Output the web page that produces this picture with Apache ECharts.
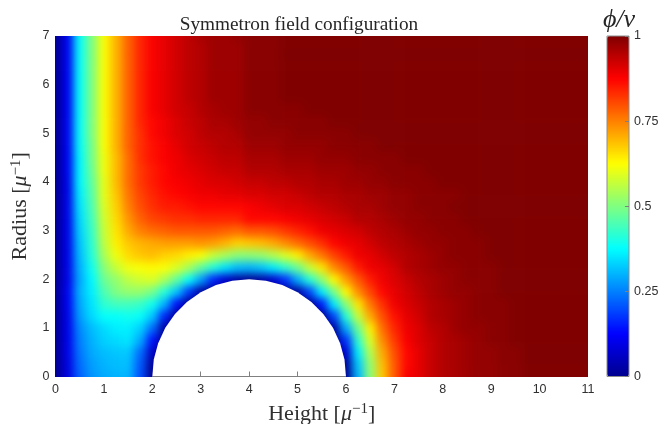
<!DOCTYPE html>
<html>
<head>
<meta charset="utf-8">
<style>
    html, body { margin: 0; padding: 0; background: #fff; }
    #chart { width: 671px; height: 424px; }
    /* the field sits alone on layer 0: soften the cells, keep it inside the plot box */
    #chart canvas[data-zr-dom-id="zr_0"] {
        filter: blur(4px);
        clip-path: inset(36px 83px 47.5px 55.5px);
    }
</style>
<script src="https://cdn.jsdelivr.net/npm/echarts@6/dist/echarts.min.js"></script>
</head>
<body>
<div id="chart"></div>
<script>
    // height axis, radius axis (field nodes every 0.25)
    let xValues = [0,0.25,0.5,0.75,1,1.25,1.5,1.75,2,2.25,2.5,2.75,3,3.25,3.5,3.75,4,4.25,4.5,4.75,5,5.25,5.5,5.75,6,6.25,6.5,6.75,7,7.25,7.5,7.75,8,8.25,8.5,8.75,9,9.25,9.5,9.75,10,10.25,10.5,10.75,11];
    let yValues = [0,0.25,0.5,0.75,1,1.25,1.5,1.75,2,2.25,2.5,2.75,3,3.25,3.5,3.75,4,4.25,4.5,4.75,5,5.25,5.5,5.75,6,6.25,6.5,6.75,7];

    // phi/v in percent, one row per radius (bottom row first)
    let fieldRows = [
        [0,9,22,27,29,30,30,20,0,0,0,0,0,0,0,0, 0,0,0,0,0,0,0,0,0,30,51,68,79,88,90,93,95,96,97,98,98,99,99,100,100,100,100,100,100],
        [0,9,23,28,30,31,31,21,1,0,0,0,0,0,0,0, 0,0,0,0,0,0,0,0,1,32,52,69,79,87,90,93,95,96,97,98,98,99,99,100,100,100,100,100,100],
        [0,10,24,29,31,32,32,23,6,0,0,0,0,0,0,0, 0,0,0,0,0,0,0,0,7,36,55,71,80,87,90,93,95,96,97,98,98,99,99,100,100,100,100,100,100],
        [0,10,25,30,33,34,35,29,14,0,0,0,0,0,0,0, 0,0,0,0,0,0,0,0,17,42,59,74,82,88,91,93,95,96,97,98,99,99,100,100,100,100,100,100,100],
        [0,10,26,31,34,36,36,33,23,2,0,0,0,0,0,0, 0,0,0,0,0,0,0,2,29,48,64,77,84,89,91,94,95,97,98,98,99,99,100,100,100,100,100,100,100],
        [0,10,28,34,38,38,39,38,32,16,0,0,0,0,0,0, 0,0,0,0,0,0,0,19,41,57,71,80,86,90,92,95,96,97,98,99,99,99,100,100,100,100,100,100,100],
        [0,11,29,35,42,44,44,43,39,30,14,0,0,0,0,0, 0,0,0,0,0,0,15,36,51,65,76,83,89,91,93,95,96,97,98,99,99,99,100,100,100,100,100,100,100],
        [0,11,30,36,45,50,52,52,49,41,32,18,2,0,0,0, 0,0,0,0,2,19,36,49,63,74,81,87,90,92,94,96,97,98,98,99,99,100,100,100,100,100,100,100,100],
        [0,10,29,37,48,52,56,58,59,54,47,38,28,16,7,2, 0,2,7,17,29,41,51,63,72,79,85,89,91,93,95,96,97,98,99,99,99,100,100,100,100,100,100,100,100],
        [0,10,30,39,51,57,61,62,63,62,59,54,47,41,35,31, 30,32,36,42,48,57,65,74,79,85,89,90,92,95,96,97,98,98,99,99,99,100,100,100,100,100,100,100,100],
        [0,10,31,41,54,61,66,68,69,67,66,64,62,57,54,51, 51,52,55,59,64,71,76,81,85,89,90,92,94,95,96,97,98,99,99,99,100,100,100,100,100,100,100,100,100],
        [0,10,32,42,56,64,68,70,71,72,72,72,73,72,70,67, 68,69,71,74,77,80,83,87,89,90,92,94,95,96,97,98,98,99,99,99,100,100,100,100,100,100,100,100,100],
        [0,10,33,43,57,65,71,75,77,78,79,79,79,79,78,77, 79,79,80,82,84,86,89,90,91,92,94,95,96,97,98,98,99,99,99,100,100,100,100,100,100,100,100,100,100],
        [0,10,34,44,58,66,73,78,81,82,83,83,84,84,84,84, 87,87,87,88,89,90,91,92,93,95,95,96,97,98,98,99,99,99,100,100,100,100,100,100,100,100,100,100,100],
        [0,10,35,45,59,67,75,80,83,85,85,86,87,87,87,87, 88,89,90,91,91,92,93,94,95,96,96,97,98,98,99,99,99,100,100,100,100,100,100,100,100,100,100,100,100],
        [0,10,36,46,60,68,76,81,84,86,87,88,89,89,90,90, 91,91,92,92,93,94,95,95,96,96,97,97,98,98,99,99,99,99,100,100,100,100,100,100,100,100,100,100,100],
        [0,10,37,47,60,69,77,82,85,87,88,89,90,91,91,92, 93,93,94,94,95,95,96,96,97,97,98,98,99,99,99,99,100,100,100,100,100,100,100,100,100,100,100,100,100],
        [0,11,37,48,61,69,77,82,85,87,89,90,91,92,93,93, 95,95,95,96,96,96,97,97,97,98,98,99,99,99,99,100,100,100,100,100,100,100,100,100,100,100,100,100,100],
        [0,11,37,49,61,69,77,83,86,88,89,91,92,93,94,94, 96,96,96,97,97,97,98,98,98,99,99,99,99,100,100,100,100,100,100,100,100,100,100,100,100,100,100,100,100],
        [0,11,38,49,62,70,78,83,86,88,90,92,93,94,95,95, 97,97,97,98,98,98,98,99,99,99,99,100,100,100,100,100,100,100,100,100,100,100,100,100,100,100,100,100,100],
        [0,11,38,50,62,70,78,83,87,89,91,92,94,95,95,96, 98,98,98,98,99,99,99,99,99,100,100,100,100,100,100,100,100,100,100,100,100,100,100,100,100,100,100,100,100],
        [0,11,38,50,62,70,78,84,87,89,91,93,94,96,96,97, 98,98,99,99,99,99,99,100,100,100,100,100,100,100,100,100,100,100,100,100,100,100,100,100,100,100,100,100,100],
        [0,11,38,50,62,70,78,84,88,90,92,93,95,96,97,97, 99,99,99,99,99,100,100,100,100,100,100,100,100,100,100,100,100,100,100,100,100,100,100,100,100,100,100,100,100],
        [0,11,38,50,62,70,78,84,88,90,92,94,95,97,97,97, 99,99,99,100,100,100,100,100,100,100,100,100,100,100,100,100,100,100,100,100,100,100,100,100,100,100,100,100,100],
        [0,11,38,50,62,70,78,84,88,90,92,94,95,97,97,97, 99,99,99,100,100,100,100,100,100,100,100,100,100,100,100,100,100,100,100,100,100,100,100,100,100,100,100,100,100],
        [0,11,38,50,62,70,78,84,88,90,92,94,95,97,97,97, 99,99,99,100,100,100,100,100,100,100,100,100,100,100,100,100,100,100,100,100,100,100,100,100,100,100,100,100,100],
        [0,11,38,50,62,70,78,84,88,90,92,94,95,97,97,97, 99,99,99,100,100,100,100,100,100,100,100,100,100,100,100,100,100,100,100,100,100,100,100,100,100,100,100,100,100],
        [0,11,38,50,62,70,78,84,88,90,92,94,95,97,97,97, 99,99,99,100,100,100,100,100,100,100,100,100,100,100,100,100,100,100,100,100,100,100,100,100,100,100,100,100,100],
        [0,11,38,50,62,70,78,84,88,90,92,94,96,97,97,98, 99,99,99,100,100,100,100,100,100,100,100,100,100,100,100,100,100,100,100,100,100,100,100,100,100,100,100,100,100]
    ];

    // outline of the empty half disc
    let holeX = [2,2.03,2.121,2.268,2.468,2.714,3,3.316,3.653,4,4.347,4.684,5,5.286,5.532,5.732,5.879,5.97,6];
    let holeY = [0,0.347,0.684,1,1.286,1.532,1.732,1.879,1.97,2,1.97,1.879,1.732,1.532,1.286,1,0.684,0.347,0];

    let holeTicks = [3,4,5];
    let colorTicks = [0,0.25,0.5,0.75,1];
    let jetColors = ['#00008f','#0000ff','#0080ff','#00ffff','#80ff80','#ffff00','#ff8000','#ff0000','#800000'];

    let cells = [];
    for (let j = 0; j < yValues.length; j++) {
        for (let i = 0; i < xValues.length; i++) {
            cells.push([xValues[i], yValues[j], fieldRows[j][i] / 100]);
        }
    }

    let tickFont = {fontFamily: 'Liberation Sans', fontSize: 12.5, color: '#303030'};
    let serif = 'Liberation Serif';
    let nameRich = {
        a: {fontFamily: serif, fontSize: 22, color: '#303030'},
        m: {fontFamily: serif, fontSize: 22, fontStyle: 'italic', color: '#303030'},
        s: {fontFamily: serif, fontSize: 15, color: '#303030', padding: [0, 0, 10, 0]}
    };

    let myChart = echarts.init(document.getElementById('chart'));
    let option = {
        animation: false,
        title: [{
            text: 'Symmetron field configuration',
            left: 294,
            top: 10,
            textAlign: 'center',
            zlevel: 1,
            textStyle: {fontFamily: serif, fontSize: 19.25, fontWeight: 'normal', color: '#262626'}
        }, {
            text: 'ϕ/v',
            left: 614,
            top: 2,
            textAlign: 'center',
            zlevel: 1,
            textStyle: {fontFamily: serif, fontSize: 26, fontStyle: 'italic', fontWeight: 'normal', color: '#262626'}
        }],
        grid: [
            {left: 55.5, right: 83, top: 36, bottom: 47.5, show: false, outerBoundsMode: 'none'},
            {left: 607, width: 22, top: 36, bottom: 47.5, show: true, outerBoundsMode: 'none', zlevel: 1, z: 6, backgroundColor: 'transparent', borderColor: '#8c8c8c', borderWidth: 1}
        ],
        xAxis: [{
            type: 'value', min: 0, max: 11, interval: 1, gridIndex: 0, zlevel: 1, z: 5,
            name: '{a|Height [}{m|μ}{s|−1}{a|]}',
            nameLocation: 'middle',
            nameGap: 24,
            nameTextStyle: {rich: nameRich},
            splitLine: {show: false},
            axisLine: {show: false},
            axisTick: {show: true, inside: true, length: 5, customValues: holeTicks, lineStyle: {color: '#808080'}},
            axisLabel: Object.assign({margin: 7}, tickFont)
        }, {
            type: 'value', min: 0, max: 1, gridIndex: 1, show: false
        }],
        yAxis: [{
            type: 'value', min: 0, max: 7, interval: 1, gridIndex: 0, zlevel: 1, z: 5,
            name: '{a|Radius [}{m|μ}{s|−1}{a|]}',
            nameLocation: 'middle',
            nameGap: 15,
            nameTextStyle: {rich: nameRich},
            splitLine: {show: false},
            axisLine: {show: false},
            axisTick: {show: false},
            axisLabel: Object.assign({margin: 6}, tickFont)
        }, {
            type: 'value', min: 0, max: 1, interval: 0.25, gridIndex: 1, position: 'right', zlevel: 1, z: 7,
            splitLine: {show: false},
            axisLine: {show: false, onZero: false},
            axisTick: {show: true, inside: true, length: 4, lineStyle: {color: '#808080'}},
            axisLabel: Object.assign({
                margin: 5,
                customValues: colorTicks,
                formatter: function (v) { return String(v); }
            }, tickFont)
        }],
        visualMap: {
            type: 'continuous',
            seriesIndex: 0,
            dimension: 2,
            min: 0,
            max: 1,
            left: 607,
            top: 36,
            padding: 0,
            itemWidth: 22,
            itemHeight: 340.5,
            text: ['', ''],
            showLabel: false,
            calculable: false,
            realtime: false,
            zlevel: 1,
            z: 1,
            inRange: {color: jetColors}
        },
        series: [{
            type: 'custom',
            xAxisIndex: 0,
            yAxisIndex: 0,
            zlevel: 0,
            silent: true,
            data: cells,
            encode: {x: 0, y: 1},
            renderItem: function (params, api) {
                let c = api.coord([api.value(0), api.value(1)]);
                let s = api.size([0.25, 0.25]);
                // edge cells reach past the plot so the blur does not fade there
                let padL = api.value(0) === 0 ? 16 : 0;
                let padR = api.value(0) === 11 ? 16 : 0;
                let padB = api.value(1) === 0 ? 16 : 0;
                let padT = api.value(1) === 7 ? 16 : 0;
                return {
                    type: 'rect',
                    shape: {
                        x: c[0] - s[0] / 2 - padL,
                        y: c[1] - s[1] / 2 - padT,
                        width: s[0] + 0.5 + padL + padR,
                        height: s[1] + 0.5 + padT + padB
                    },
                    style: {fill: api.visual('color')}
                };
            }
        }, {
            type: 'line',
            xAxisIndex: 0,
            yAxisIndex: 0,
            zlevel: 1,
            z: 3,
            silent: true,
            symbol: 'none',
            clip: false,
            lineStyle: {width: 0},
            areaStyle: {color: '#fff', opacity: 1},
            data: holeX.map(function (x, i) { return [x, holeY[i]]; })
        }, {
            type: 'line',
            xAxisIndex: 0,
            yAxisIndex: 0,
            zlevel: 1,
            z: 4,
            silent: true,
            symbol: 'none',
            clip: false,
            lineStyle: {width: 1, color: '#808080'},
            data: [[holeX[0], 0], [holeX[holeX.length - 1], 0]]
        }]
    };
    myChart.setOption(option);
</script>
</body>
</html>
